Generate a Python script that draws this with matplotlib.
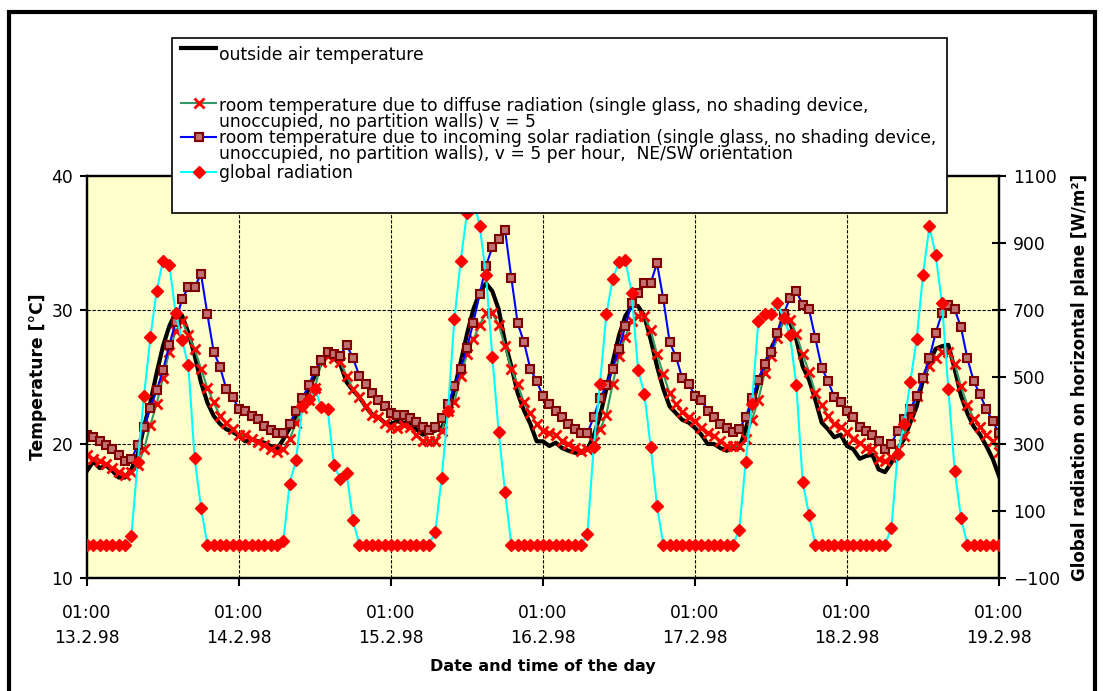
import numpy as np
import matplotlib
matplotlib.use("Agg")
import matplotlib.pyplot as plt
from matplotlib.lines import Line2D
from matplotlib.patches import Rectangle

# ---------------- data (hourly, 13.2.98 01:00 ... 19.2.98 01:00) ----------------
tick_labels = ["01:00\n13.2.98", "01:00\n14.2.98", "01:00\n15.2.98", "01:00\n16.2.98",
               "01:00\n17.2.98", "01:00\n18.2.98", "01:00\n19.2.98"]

outside_d1 = [18.0, 18.7, 18.2, 18.4, 18.0, 17.5, 17.5, 18.1, 19.2, 21.3, 23.1, 25.3,
              27.3, 28.8, 29.8, 29.6, 28.3, 26.6, 24.6, 23.1, 22.1, 21.5, 21.1, 20.9]
outside_d2 = [20.6, 20.2, 20.35, 20.2, 20.1, 19.85, 19.6, 20.35, 21.2, 22.1, 23.1, 24.1,
              25.1, 26.1, 26.6, 26.4, 25.95, 24.6, 24.0, 23.5, 22.8, 22.2, 22.0, 21.6]
outside_d3 = [21.5, 21.7, 21.6, 21.5, 21.1, 20.7, 20.85, 21.0, 21.2, 22.3, 24.1, 26.1,
              28.2, 30.05, 31.3, 32.0, 31.4, 30.05, 27.6, 25.8, 23.8, 22.5, 21.5, 20.2]
outside_d4 = [20.2, 19.85, 20.1, 19.7, 19.5, 19.35, 19.35, 19.6, 20.6, 22.1, 24.1, 26.1,
              28.1, 29.55, 30.3, 30.3, 29.55, 27.8, 25.8, 24.1, 22.8, 22.3, 21.8, 21.6]
outside_d5 = [21.2, 20.7, 20.0, 20.0, 19.7, 19.5, 19.7, 19.7, 21.1, 22.8, 24.6, 25.8,
              27.1, 28.1, 29.55, 29.05, 27.8, 25.8, 24.8, 23.3, 21.6, 21.1, 20.5, 20.7]
outside_d6 = [19.85, 19.6, 18.9, 19.1, 19.2, 18.1, 17.9, 18.6, 19.6, 20.35, 21.6, 22.8,
              24.8, 26.1, 27.1, 27.3, 27.4, 25.6, 23.6, 22.3, 21.3, 20.7, 19.85, 18.9]
outside_end = [17.6]

diffuse_d1 = [19.2, 18.9, 18.7, 18.5, 18.2, 17.9, 17.7, 17.9, 18.4, 19.6, 21.4, 23.0,
              24.95, 26.9, 28.4, 29.2, 28.1, 27.1, 25.6, 24.2, 23.1, 22.1, 21.6, 21.1]
diffuse_d2 = [20.7, 20.65, 20.35, 20.15, 19.9, 19.65, 19.4, 19.65, 20.35, 21.6, 22.7, 23.3,
              24.2, 26.1, 26.6, 26.4, 26.1, 25.1, 24.1, 23.5, 22.8, 22.2, 22.0, 21.6]
diffuse_d3 = [21.3, 21.2, 21.4, 21.3, 20.7, 20.2, 20.2, 20.2, 21.0, 22.5, 23.1, 25.1,
              26.7, 27.8, 28.9, 29.75, 29.75, 28.9, 27.3, 25.6, 24.45, 23.1, 22.3, 21.5]
diffuse_d4 = [21.0, 20.85, 20.7, 20.2, 20.0, 19.7, 19.5, 19.6, 20.15, 21.1, 22.2, 24.45,
              26.6, 28.0, 29.2, 29.55, 29.55, 28.5, 26.7, 25.2, 23.8, 22.96, 22.4, 22.0]
diffuse_d5 = [21.7, 21.2, 20.85, 20.6, 20.2, 19.85, 19.85, 19.85, 20.35, 21.8, 23.3, 25.3,
              26.6, 27.9, 29.4, 29.25, 28.2, 26.7, 25.4, 23.8, 22.9, 22.1, 21.5, 21.3]
diffuse_d6 = [20.9, 20.4, 20.1, 19.7, 19.6, 18.9, 18.7, 19.0, 19.6, 20.6, 22.1, 23.6,
              24.95, 25.8, 26.4, 26.9, 26.9, 26.0, 24.3, 22.9, 21.9, 21.3, 20.7, 20.2]
diffuse_end = [19.4]

solar_d1 = [20.7, 20.5, 20.2, 19.9, 19.6, 19.15, 18.7, 18.85, 19.9, 21.3, 22.7, 24.0,
            25.5, 27.4, 29.1, 30.8, 31.7, 31.7, 32.7, 29.7, 26.9, 25.75, 24.1, 23.5]
solar_d2 = [22.6, 22.5, 22.1, 21.9, 21.35, 21.05, 20.8, 20.8, 21.5, 22.5, 23.4, 24.4,
            25.45, 26.25, 26.9, 26.7, 26.6, 27.4, 26.4, 25.1, 24.45, 23.8, 23.3, 22.8]
solar_d3 = [22.3, 22.14, 22.14, 21.97, 21.64, 21.3, 21.05, 21.3, 21.97, 23.0, 24.3, 25.6,
            27.2, 29.05, 31.2, 33.3, 34.7, 35.3, 36.0, 32.4, 29.0, 27.6, 25.6, 24.7]
solar_d4 = [23.55, 23.0, 22.5, 22.0, 21.5, 21.1, 20.8, 20.8, 22.0, 23.4, 24.4, 25.6,
            27.1, 28.8, 30.5, 31.3, 32.0, 32.0, 33.5, 30.8, 27.6, 26.5, 24.9, 24.5]
solar_d5 = [23.6, 23.3, 22.5, 22.0, 21.5, 21.2, 20.9, 21.1, 22.0, 23.4, 24.8, 26.0,
            26.9, 28.3, 29.7, 30.9, 31.4, 30.4, 30.05, 27.9, 25.7, 24.7, 23.5, 23.1]
solar_d6 = [22.46, 22.0, 21.3, 21.0, 20.65, 20.2, 19.65, 20.0, 21.0, 21.9, 22.6, 23.6,
            24.9, 26.4, 28.3, 29.75, 30.4, 30.05, 28.7, 26.4, 24.7, 23.7, 22.6, 21.7]
solar_end = [20.8]

radiation_d1 = [0, 0, 0, 0, 0, 0, 0, 25, 245, 442, 618, 757, 847, 835, 690, 610, 535, 257, 110, 0, 0, 0, 0, 0]
radiation_d2 = [0, 0, 0, 0, 0, 0, 0, 10, 182, 252, 412, 435, 465, 410, 403, 237, 195, 212, 72, 0, 0, 0, 0, 0]
radiation_d3 = [0, 0, 0, 0, 0, 0, 0, 38, 200, 400, 672, 847, 990, 1030, 952, 805, 560, 337, 157, 0, 0, 0, 0, 0]
radiation_d4 = [0, 0, 0, 0, 0, 0, 0, 30, 290, 480, 687, 793, 842, 848, 752, 522, 450, 292, 115, 0, 0, 0, 0, 0]
radiation_d5 = [0, 0, 0, 0, 0, 0, 0, 43, 247, 420, 667, 687, 687, 722, 675, 625, 475, 188, 88, 0, 0, 0, 0, 0]
radiation_d6 = [0, 0, 0, 0, 0, 0, 0, 48, 270, 360, 485, 612, 805, 950, 865, 720, 465, 220, 80, 0, 0, 0, 0, 0]
radiation_end = [0]

outside = np.array(outside_d1 + outside_d2 + outside_d3 + outside_d4 + outside_d5 + outside_d6 + outside_end)
diffuse = np.array(diffuse_d1 + diffuse_d2 + diffuse_d3 + diffuse_d4 + diffuse_d5 + diffuse_d6 + diffuse_end)
solar = np.array(solar_d1 + solar_d2 + solar_d3 + solar_d4 + solar_d5 + solar_d6 + solar_end)
radiation = np.array(radiation_d1 + radiation_d2 + radiation_d3 + radiation_d4 + radiation_d5 + radiation_d6 + radiation_end)
hours = np.arange(len(outside))

# ---------------- figure ----------------
W, H = 1103, 691
plt.rcParams['font.family'] = ['DejaVu Sans']
FS = 12.3
fig = plt.figure(figsize=(W / 100, H / 100), dpi=100)

def fx(px):
    return px / W

def fy(py):
    return 1 - py / H

L, R, T, B = 87, 999, 176, 578
ax = fig.add_axes([fx(L), fy(B), fx(R) - fx(L), fy(T) - fy(B)])
ax.set_facecolor('#FFFFCC')
ax.set_xlim(0, 144)
ax.set_ylim(10, 40)
ax.set_yticks([10, 20, 30, 40])
ax.set_xticks(np.arange(0, 145, 24))
ax.set_xticklabels(tick_labels, fontsize=FS, linespacing=1.5)
ax.tick_params(axis='y', direction='out', length=5, width=1.5, labelsize=FS, pad=5)
ax.tick_params(axis='x', direction='out', length=6, width=1.5, pad=13)
for s in ax.spines.values():
    s.set_linewidth(1.6)
    s.set_color('black')
for yv in [20, 30]:
    ax.axhline(yv, color='black', lw=0.8, ls=(0, (3, 1.5)), zorder=1)
for xv in range(24, 144, 24):
    ax.axvline(xv, color='black', lw=0.8, ls=(0, (3, 1.5)), zorder=1)

ax.plot(hours, outside, color='black', lw=3, zorder=3)
ax.plot(hours, diffuse, color='#339966', lw=1.5, marker='x', ms=7, mew=2,
        mec='#FF0000', zorder=4)
ax.plot(hours, solar, color='#0000FF', lw=1.5, marker='s', ms=6, mew=1.5,
        mfc='#C07070', mec='#800000', zorder=5)

ax.set_ylabel('Temperature [°C]', fontsize=FS, fontweight='bold', labelpad=3)
ax.set_xlabel('Date and time of the day', fontsize=11.5, fontweight='bold', labelpad=8)

ax2 = ax.twinx()
ax2.set_ylim(-100, 1100)
ax2.set_yticks(np.arange(-100, 1101, 200))
ax2.tick_params(axis='y', direction='inout', length=10, width=1.5, labelsize=FS, pad=5)
ax2.plot(hours, radiation, color='#00FFFF', lw=1.5, marker='D', ms=6,
         mfc='#FF0000', mec='#FF0000', zorder=5)
ax2.set_ylabel('Global radiation on horizontal plane [W/m²]', fontsize=12,
               fontweight='bold', labelpad=8)
for s in ax2.spines.values():
    s.set_linewidth(1.6)

# ---------------- legend (drawn manually) ----------------
lx0, lx1, ly0, ly1 = 172, 947, 38, 213
fig.patches.append(Rectangle((fx(lx0), fy(ly1)), fx(lx1) - fx(lx0), fy(ly0) - fy(ly1),
                             transform=fig.transFigure, facecolor='white',
                             edgecolor='black', lw=1.2, zorder=10))
hx0, hx1 = 181, 216
tx = 219
leg_font = dict(fontsize=FS, va='center', ha='left', zorder=12)

def handle(y, line_kw, marker_kw=None):
    fig.lines.append(Line2D([fx(hx0), fx(hx1)], [fy(y), fy(y)], transform=fig.transFigure,
                            zorder=11, **line_kw))
    if marker_kw:
        fig.lines.append(Line2D([fx((hx0 + hx1) / 2)], [fy(y)], transform=fig.transFigure,
                                zorder=12, lw=0, **marker_kw))

handle(48, dict(color='black', lw=3))
fig.text(fx(tx), fy(55), 'outside air temperature', **leg_font)
handle(103, dict(color='#339966', lw=1.5), dict(marker='x', ms=7, mew=2, mec='#FF0000'))
fig.text(fx(tx), fy(106), 'room temperature due to diffuse radiation (single glass, no shading device,', **leg_font)
fig.text(fx(tx), fy(122), 'unoccupied, no partition walls) v = 5', **leg_font)
handle(137, dict(color='#0000FF', lw=1.5), dict(marker='s', ms=6, mew=1.5, mfc='#C07070', mec='#800000'))
fig.text(fx(tx), fy(138), 'room temperature due to incoming solar radiation (single glass, no shading device,', **leg_font)
fig.text(fx(tx), fy(154), 'unoccupied, no partition walls), v = 5 per hour,  NE/SW orientation', **leg_font)
handle(172, dict(color='#00FFFF', lw=1.5), dict(marker='D', ms=6, mfc='#FF0000', mec='#FF0000'))
fig.text(fx(tx), fy(173), 'global radiation', **leg_font)

# outer frame
fig.patches.append(Rectangle((fx(9), fy(700)), fx(1095) - fx(9), fy(12) - fy(700),
                             transform=fig.transFigure, fill=False,
                             edgecolor='black', lw=3, zorder=20))

fig.savefig('out.png', dpi=100)
